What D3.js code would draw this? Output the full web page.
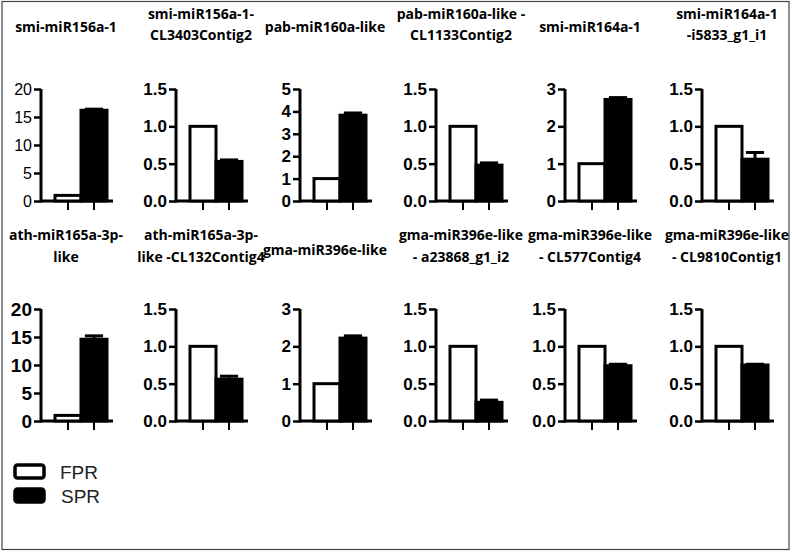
<!DOCTYPE html>
<html>
<head>
<meta charset="utf-8">
<script src="https://cdn.jsdelivr.net/npm/d3@7"></script>
<style>
  body { margin: 0; background: #fff; }
  svg { display: block; }
  .title { font-family: "Open Sans", sans-serif; font-weight: 700; font-size: 14px; fill: #000; }
  .tick text { font-family: "Liberation Sans", Arial, sans-serif; fill: #000; }
  .legend-label { font-family: "Liberation Sans", Arial, sans-serif; font-size: 19px; fill: #222; }
</style>
</head>
<body>
<svg width="792" height="552"></svg>
<script>
"use strict";

// panel titles, one entry per line
const titles = [
  ["smi-miR156a-1"],
  ["smi-miR156a-1-", "CL3403Contig2"],
  ["pab-miR160a-like"],
  ["pab-miR160a-like -", "CL1133Contig2"],
  ["smi-miR164a-1"],
  ["smi-miR164a-1", "-i5833_g1_i1"],
  ["ath-miR165a-3p-", "like"],
  ["ath-miR165a-3p-", "like -CL132Contig4"],
  ["gma-miR396e-like"],
  ["gma-miR396e-like", "- a23868_g1_i2"],
  ["gma-miR396e-like", "- CL577Contig4"],
  ["gma-miR396e-like", "- CL9810Contig1"]
];

const groups = ["FPR", "SPR"];
const fprValues = [1, 1, 1, 1, 1, 1, 1, 1, 1, 1, 1, 1];
const sprValues = [16.2, 0.53, 3.83, 0.48, 2.72, 0.56, 14.6, 0.56, 2.22, 0.25, 0.74, 0.75];
const sprErrors = [0.2, 0.02, 0.1, 0.03, 0.05, 0.09, 0.6, 0.04, 0.06, 0.03, 0.02, 0.01];
const yMaxes = [20, 1.5, 5, 1.5, 3, 1.5, 20, 1.5, 3, 1.5, 1.5, 1.5];
const yTicks = [
  [0, 5, 10, 15, 20],
  [0, 0.5, 1, 1.5],
  [0, 1, 2, 3, 4, 5],
  [0, 0.5, 1, 1.5],
  [0, 1, 2, 3],
  [0, 0.5, 1, 1.5],
  [0, 5, 10, 15, 20],
  [0, 0.5, 1, 1.5],
  [0, 1, 2, 3],
  [0, 0.5, 1, 1.5],
  [0, 0.5, 1, 1.5],
  [0, 0.5, 1, 1.5]
];

const svg = d3.select("svg");
const width = +svg.attr("width");
const height = +svg.attr("height");

// frame
svg.append("rect")
  .attr("x", 2).attr("y", 1.5)
  .attr("width", width - 5).attr("height", height - 4)
  .attr("fill", "none")
  .attr("stroke", "#444")
  .attr("stroke-width", 1.2);

const colX = [41, 176, 300, 436, 565, 702];
const rowBase = [201, 421];
const plotH = 112;
const plotW = 72;
const titleLines = { single: [32, 255], double: [[19, 40], [240, 262]] };

const tickSizeFor = i => (i === 6 ? 19 : i === 0 ? 16 : 17);
const tickWeightFor = i => (i === 0 ? "normal" : "bold");

titles.forEach((title, i) => {
  const row = Math.floor(i / 6);
  const col = i % 6;
  const g = svg.append("g")
    .attr("transform", `translate(${colX[col]},${rowBase[row] - plotH})`);

  const y = d3.scaleLinear().domain([0, yMaxes[i]]).range([plotH, 0]);
  const x = d3.scaleBand().domain(groups).range([14, 66]).padding(0);

  const fmt = yMaxes[i] === 1.5 ? d3.format(".1f") : d3.format("d");

  const yAxisG = g.append("g")
    .call(d3.axisLeft(y).tickValues(yTicks[i]).tickSize(7).tickSizeOuter(0).tickPadding(2).tickFormat(fmt));
  yAxisG.select(".domain").attr("stroke-width", 3).attr("d", `M0,${plotH + 1.5}V0`);
  yAxisG.selectAll(".tick line").attr("stroke-width", 2.5);
  yAxisG.selectAll(".tick text")
    .style("font-size", tickSizeFor(i) + "px")
    .style("font-weight", tickWeightFor(i));
  yAxisG.attr("font-family", null).attr("font-size", null);

  const xAxisG = g.append("g")
    .attr("transform", `translate(0,${plotH})`)
    .call(d3.axisBottom(x).tickSize(9).tickSizeOuter(0).tickFormat(""));
  xAxisG.select(".domain").attr("stroke-width", 3).attr("d", `M0,0H${plotW}`);
  xAxisG.selectAll(".tick line").attr("stroke-width", 2);

  const vals = [fprValues[i], sprValues[i]];
  g.selectAll("rect.bar")
    .data(groups)
    .enter()
    .append("rect")
    .attr("class", "bar")
    .attr("x", d => x(d))
    .attr("width", x.bandwidth())
    .attr("y", (d, j) => y(vals[j]))
    .attr("height", (d, j) => y(0) - y(vals[j]))
    .attr("fill", (d, j) => (j === 0 ? "#fff" : "#000"))
    .attr("stroke", "#000")
    .attr("stroke-width", 3);

  // SPR error bar
  const cx = x("SPR") + x.bandwidth() / 2;
  const capHalf = x.bandwidth() * 0.35;
  const top = y(sprValues[i] + sprErrors[i]);
  g.append("line")
    .attr("x1", cx).attr("x2", cx)
    .attr("y1", y(sprValues[i])).attr("y2", top)
    .attr("stroke", "#000").attr("stroke-width", 3);
  g.append("line")
    .attr("x1", cx - capHalf).attr("x2", cx + capHalf)
    .attr("y1", top).attr("y2", top)
    .attr("stroke", "#000").attr("stroke-width", 3);

  // title
  const baselines = title.length === 1 ? [titleLines.single[row]] : titleLines.double[row];
  const t = svg.append("text")
    .attr("class", "title")
    .attr("text-anchor", "middle");
  title.forEach((line, k) => {
    t.append("tspan")
      .attr("x", colX[col] + 25)
      .attr("y", baselines[k])
      .text(line);
  });
});

// legend
const legend = svg.append("g").attr("transform", "translate(14,465)");
legend.selectAll("rect")
  .data(groups)
  .enter()
  .append("rect")
  .attr("x", 1)
  .attr("y", (d, i) => i * 24)
  .attr("width", 29)
  .attr("height", 13)
  .attr("rx", 2.5)
  .attr("fill", (d, i) => (i === 0 ? "#fff" : "#000"))
  .attr("stroke", "#000")
  .attr("stroke-width", 3.5);
legend.selectAll("text")
  .data(groups)
  .enter()
  .append("text")
  .attr("class", "legend-label")
  .attr("x", (d, i) => 46 + i)
  .attr("y", (d, i) => 14 + i * 24)
  .text(d => d);
</script>
</body>
</html>
